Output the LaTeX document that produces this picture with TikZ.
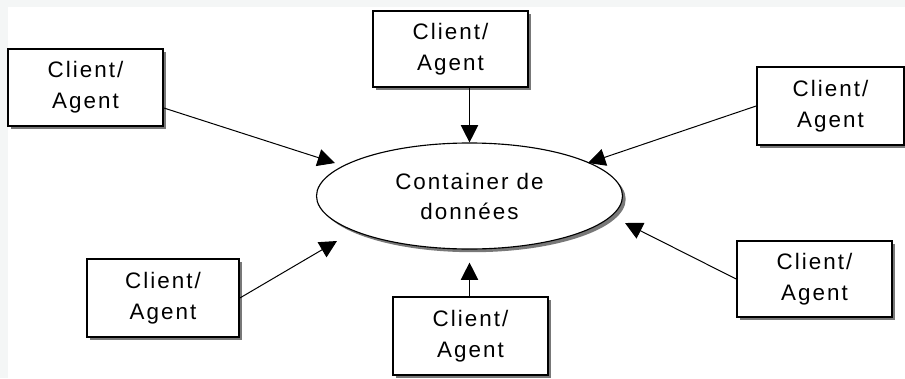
\documentclass[tikz,border=0pt]{standalone}
\usepackage{fontspec}
\newfontfamily\labelfont{Liberation Sans}[LetterSpace=9]
\usetikzlibrary{arrows.meta,calc,shapes.geometric,shadows}
\definecolor{pagestrip}{RGB}{244,246,246}
\definecolor{shade}{RGB}{120,120,120}
\def\pxu{0.75pt}

\begin{document}
\begin{tikzpicture}[x=0.75pt,y=-0.75pt,
  boxshadow/.style={drop shadow={shadow xshift=2.4pt, shadow yshift=-2.4pt, fill=shade, opacity=1}},
  client/.style={rectangle, draw=black, line width=1.3pt, fill=white, inner sep=0pt,
    align=center, font=\labelfont\fontsize{16.8}{23.2}\selectfont, boxshadow},
  store/.style={ellipse, draw=black, line width=0.85pt, fill=white, inner sep=0pt,
    align=center, font=\labelfont\fontsize{16.8}{22.5}\selectfont,
    minimum width=306*\pxu, minimum height=106*\pxu, boxshadow},
  feed/.style={-{Triangle[length=13pt,width=13pt]}, line width=0.75pt}
]
  \useasboundingbox (0,0) rectangle (905,378);
  \fill[pagestrip] (0,0) rectangle (905,378);
  \fill[white] (8,7) rectangle (905,378);

  % central data container
  \node[store] (ell) at (469.5,196) {Container de\\donn\'ees};

  % client / agent boxes around it
  \node[client, minimum width=155*\pxu, minimum height=77*\pxu] (A) at (85.5,87.5) {Client/\\Agent};
  \node[client, minimum width=155*\pxu, minimum height=76*\pxu] (B) at (450.5,49) {Client/\\Agent};
  \node[client, minimum width=147*\pxu, minimum height=78*\pxu] (C) at (830.5,106) {Client/\\Agent};
  \node[client, minimum width=155*\pxu, minimum height=76*\pxu] (D) at (814.5,279) {Client/\\Agent};
  \node[client, minimum width=152*\pxu, minimum height=78*\pxu] (E) at (163,298) {Client/\\Agent};
  \node[client, minimum width=155*\pxu, minimum height=78*\pxu] (F) at (470.5,336) {Client/\\Agent};

  % connectors towards the container
  \draw[feed] ($(A.east)+(0,20.5)$) -- ($(ell.center)+(-134.5,-33)$);
  \draw[feed] (ell.north |- B.south) -- (ell.north);
  \draw[feed] (C.west) -- ($(ell.center)+(118.5,-33)$);
  \draw[feed] (D.west) -- ($(ell.center)+(155.5,27)$);
  \draw[feed] (E.east) -- ($(ell.center)+(-132.5,45)$);
  \draw[feed] (ell.south |- F.north) -- ($(ell.south)+(0,13)$);
\end{tikzpicture}
\end{document}
